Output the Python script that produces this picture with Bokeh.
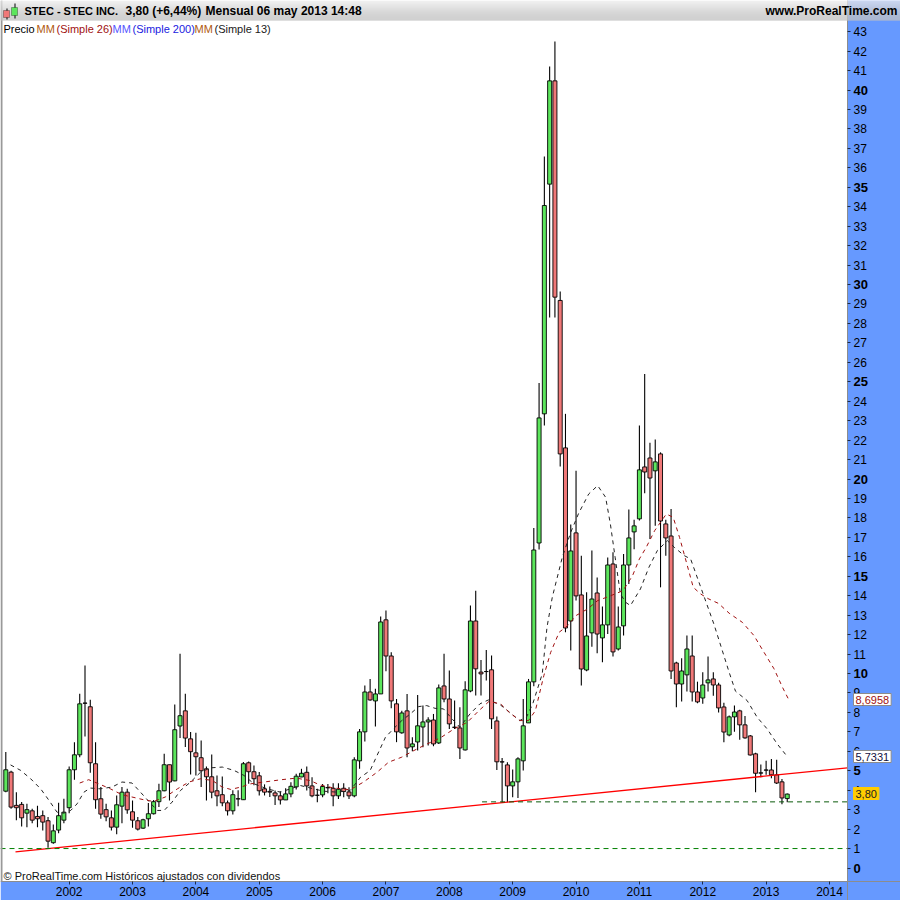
from bokeh.plotting import figure
from bokeh.embed import file_html
from bokeh.resources import INLINE
from bokeh.models import FixedTicker, Label, Range1d, BoxAnnotation

# --- chart values (month index 0 = Jan 2001) ---
opens = [3.95,4.93,3.22,3.27,2.82,2.94,2.65,2.69,2.43,1.30,1.95,2.46,3.10,5.05,5.82,8.48,8.29,5.36,3.56,3.00,2.58,2.10,3.18,3.90,2.89,2.43,2.05,2.53,2.79,3.41,3.97,5.31,4.48,7.30,8.08,6.64,5.92,5.67,5.10,4.69,3.97,3.77,3.35,2.94,3.56,3.51,5.41,4.95,4.74,4.07,3.94,
         3.86,3.71,3.50,3.81,4.17,4.68,4.92,4.22,3.74,3.76,4.14,4.10,3.71,4.10,3.91,3.71,5.51,7.00,9.05,8.59,8.95,12.76,10.90,8.44,6.95,8.08,6.23,6.48,7.25,7.51,7.61,6.43,9.36,8.69,7.24,7.20,6.07,9.10,12.70,10.07,10.10,10.19,7.56,5.46,5.30,4.22,4.43,5.51,7.46,9.57,16.71,23.35,35.16,40.47,29.18,21.60,12.70,17.23,14.04,10.18,12.09,14.14,11.83,12.50,15.63,11.26,12.45,15.58,17.28,17.95,20.62,21.08,20.42,21.29,17.69,17.07,10.54,9.46,9.93,10.90,9.05,8.74,9.52,9.72,9.41,8.28,6.84,7.77,8.08,7.36,6.79,5.87,4.89,5.04,5.04,4.79,4.43,3.57]
highs = [5.96,5.00,3.90,3.39,3.30,3.05,3.20,2.95,2.62,2.24,3.35,3.56,5.22,6.47,8.96,10.41,8.65,6.46,4.16,3.30,2.96,3.73,4.16,4.07,3.47,2.62,2.53,3.34,3.50,4.33,5.87,5.31,8.41,11.01,8.96,6.99,6.95,6.56,5.22,5.84,4.76,4.71,3.47,4.00,4.00,5.45,5.48,5.27,4.93,4.30,4.19,
         3.98,3.95,4.10,4.41,4.84,5.10,5.22,4.67,4.07,4.32,4.32,4.36,4.36,4.36,4.15,5.70,7.15,9.38,9.72,9.21,12.93,13.24,11.09,8.69,8.09,8.95,6.72,8.90,8.35,7.75,7.92,9.43,11.01,10.15,8.61,8.27,9.60,13.49,14.25,10.70,11.21,10.92,7.79,5.66,5.44,5.06,5.70,8.69,9.72,17.48,24.94,36.58,41.21,42.49,29.64,23.35,17.66,20.43,16.06,14.18,16.32,14.93,13.44,15.96,16.23,13.44,16.15,18.43,17.90,22.75,25.40,21.87,22.03,21.37,17.90,18.46,10.60,10.78,11.95,11.95,9.58,10.06,10.87,10.06,9.52,8.49,7.84,8.35,8.13,7.82,6.84,5.92,5.32,5.52,5.61,5.57,4.58,3.83]
lows = [3.90,3.05,2.45,2.14,2.10,2.30,2.10,1.93,1.04,1.25,1.79,2.30,2.82,4.54,5.70,6.76,4.90,3.05,2.53,2.40,1.93,1.73,2.30,2.79,2.07,1.93,2.00,2.14,2.75,3.13,3.95,3.47,4.46,6.68,6.22,4.81,4.76,4.16,3.47,3.59,3.17,3.17,2.70,2.75,3.17,3.50,4.33,4.25,3.73,3.73,3.65,
        3.24,3.26,3.50,3.64,4.03,4.67,3.98,3.64,3.38,3.64,3.84,3.18,3.55,3.64,3.55,3.64,5.10,6.50,8.60,7.27,8.95,10.12,8.21,6.47,6.90,5.70,6.00,6.04,6.21,6.30,6.26,6.38,8.52,7.15,7.15,5.61,6.04,9.04,8.87,8.87,9.64,7.15,5.04,3.38,3.38,3.64,3.60,5.01,7.46,9.34,16.37,22.75,28.30,28.30,20.64,12.12,11.18,13.75,9.38,10.12,11.38,11.04,10.58,12.03,10.87,11.18,11.95,14.60,16.39,17.86,19.27,16.92,17.60,14.43,16.06,9.72,8.26,8.56,9.07,8.56,8.47,8.44,9.07,8.86,8.00,6.46,6.77,7.01,6.60,6.64,5.78,3.89,4.67,4.79,4.61,4.32,3.28,3.38]
closes = [5.05,3.13,3.10,2.58,3.00,2.46,2.53,2.36,1.38,1.91,2.69,2.87,5.05,5.82,8.44,8.47,5.41,3.51,2.77,2.63,2.10,3.25,3.90,2.99,2.46,2.00,2.48,2.79,3.41,3.97,5.31,4.42,7.11,7.83,6.68,5.98,5.72,5.00,4.69,3.90,3.71,3.35,2.94,3.77,3.55,5.36,4.95,4.59,3.97,3.90,3.90,
          3.71,3.50,3.81,4.20,4.72,4.87,4.22,3.71,3.74,4.19,4.12,3.71,4.05,3.93,3.71,5.56,7.00,9.05,8.64,8.95,12.65,10.90,8.59,7.00,7.97,6.17,6.38,7.31,7.51,7.61,6.38,9.26,8.69,7.41,7.23,6.17,9.16,12.70,10.24,9.98,10.10,7.67,5.46,5.45,4.22,4.43,5.61,7.31,9.57,16.35,23.14,34.06,40.47,29.35,21.29,12.34,16.30,13.99,10.23,11.93,13.83,12.03,12.50,15.58,11.11,12.39,15.58,16.97,17.59,20.47,20.36,20.05,20.88,17.84,16.97,10.13,9.46,10.13,11.26,9.05,8.54,9.41,9.67,9.41,8.23,6.99,7.77,8.02,7.36,6.69,5.81,4.87,4.88,5.03,4.79,4.37,3.60,3.80]

ma13_i = [0.9,2.8,4.7,6.6,8.2,9.7,11,12.3,13.5,14.8,16,17.9,20.1,22,23.9,25.5,27.1,28.7,30,31.5,33.1,35,36.9,38.8,41,43.2,45.1,47,49.5,52,55.8,58.3,60.2,62.7,65.2,67.2,69,70.3,71.9,73.4,75,76.6,78.2,79.7,81.3,82.9,84.5,86,87.9,89.8,91.4,93.6,95.4,97.3,98.6,99.8,101.6,102.5,103.5,105.4,107,108.5,110.4,112.1,113.6,114.5,115.4,116.4,117.4,118.3,120.2,121.8,123.4,125.3,126.6,128.5,129.7,131.4,134.1,135.7,137,138.2,140.4,142.3,144.2,146.1,148]
ma13_v = [5.30,5.02,4.59,4.07,3.47,2.87,2.82,2.96,3.30,3.90,4.11,4.07,4.16,4.42,4.37,3.90,3.42,2.96,2.96,3.39,3.99,4.42,4.93,5.15,5.19,5.02,4.76,4.33,4.07,3.90,4.24,4.07,3.95,3.90,3.98,4.67,5.01,5.78,6.72,7.15,7.58,7.92,8.30,8.35,8.21,8.18,7.67,7.24,7.92,8.44,8.64,8.40,8.01,7.58,7.75,8.44,9.98,12.38,13.92,15.98,17.26,18.24,19.23,19.66,19.06,17.69,15.98,14.09,13.66,13.49,14.35,15.46,16.32,16.83,16.49,16.06,15.89,14.60,12.55,11.18,10.06,9.09,8.61,7.75,7.15,6.38,5.73]
ma26_i = [14,15.7,17.6,19.8,22,23.9,26.1,28,30.2,32.5,34.7,36.9,39.1,41,42.6,44.5,46.4,48.9,52.2,55,57.6,59.5,62,65.2,67.7,70.3,72.5,75,77.3,79.8,82.3,84.9,87.4,89.6,91.5,93.7,95.5,97.4,99,100.3,101.9,103.2,104.8,106.4,108,110.2,112.1,114.3,116.9,118.7,120,121.3,122.9,125.1,126.4,127.6,128.9,130.2,131.6,133,135,137,139.5,141.7,143.6,145.5,147.1,148.2]
ma26_v = [4.37,4.54,4.33,4.07,3.77,3.65,3.51,3.42,3.65,4.07,4.42,4.59,4.50,4.16,4.04,4.16,4.33,4.42,4.54,4.62,4.50,4.27,4.12,4.02,4.41,4.92,5.44,5.70,6.04,6.38,6.69,7.15,7.49,8.09,8.56,8.44,7.96,7.58,7.58,8.09,9.89,11.09,12.12,12.46,12.98,13.32,13.75,13.97,14.26,15.03,15.89,16.49,17.35,18.20,18.03,17.00,15.72,14.43,14.09,13.85,13.60,13.10,12.63,11.95,11.09,10.24,9.29,8.70]

trend_i = [1.84, 159.4]
trend_v = [0.83, 5.15]
support_levels = [1.0, 3.4]
support_starts = [None, 90.2]

years = ["2002","2003","2004","2005","2006","2007","2008","2009","2010","2011","2012","2013","2014"]
year_ticks = [12,24,36,48,60,72,84,96,108,120,132,144,156]
price_ticks = list(range(0, 44))
last_close = "3,80"
ma26_last = "8,6958"
ma13_last = "5,7331"

# --- colours ---
BLUE = "#6699FF"
GREEN = "#5CE65C"
RED = "#F07878"
FONT = "Liberation Sans"

# --- geometry: page pixels -> data; the frame fills the whole figure ---
FIG_W, FIG_H = 900, 900
MONTH_PX = 5.28
PRICE_PX = 19.45
ZERO_Y = 867.5        # page y of price 0
FIRST_X = 5.3         # page x of first candle
PLOT_R, PLOT_B = 847, 881

def vx(px):
    return (px - FIRST_X) / MONTH_PX

def vy(py):
    return (ZERO_Y - py) / PRICE_PX

def sy(py):
    return FIG_H - py

p = figure(width=FIG_W, height=FIG_H, output_backend="svg", toolbar_location=None,
           x_range=Range1d(vx(0), vx(FIG_W)), y_range=Range1d(vy(FIG_H), vy(0)),
           y_axis_location="right", min_border_left=0, min_border_top=0,
           min_border_right=0, min_border_bottom=0,
           background_fill_color="white", border_fill_color=BLUE, outline_line_color=None)
p.grid.visible = False

def box(x0, x1, y0, y1, fill, line=None, level="annotation", line_width=1):
    p.add_layout(BoxAnnotation(left=x0, right=x1, top=sy(y0), bottom=sy(y1),
                               left_units="screen", right_units="screen",
                               top_units="screen", bottom_units="screen",
                               fill_color=fill, fill_alpha=1, line_color=line, line_width=line_width,
                               editable=False, level=level))

# blue bands behind the axes
box(PLOT_R, FIG_W, 0, FIG_H, BLUE, level="underlay")
box(0, FIG_W, PLOT_B, FIG_H, BLUE, level="underlay")

xa = p.xaxis[0]
xa.fixed_location = vy(PLOT_B)
xa.ticker = FixedTicker(ticks=year_ticks)
xa.major_label_overrides = {t: y for t, y in zip(year_ticks, years)}
ya = p.yaxis[0]
ya.fixed_location = vx(PLOT_R)
ya.ticker = FixedTicker(ticks=price_ticks)
ya.major_label_overrides = {t: ("" if t % 5 == 0 else str(t)) for t in price_ticks}
for ax in (xa, ya):
    ax.axis_line_color = "#8c8c8c"
    ax.major_tick_line_color = "#1a2a4a"
    ax.major_tick_in = 0
    ax.major_tick_out = 3
    ax.minor_tick_line_color = None
    ax.major_label_text_font = FONT
    ax.major_label_text_font_size = "12px"
    ax.major_label_text_color = "black"
xa.major_label_standoff = 2
ya.major_label_standoff = 3

# left edge of the plot
box(0, 2, 0, PLOT_B, "#999999")

# header band
header = ["#ececec","#e9e9e9","#e6e6e6","#e3e3e3","#e0e0e0","#dddddd","#dadada","#d7d7d7","#d4d4d4","#d1d1d1",
          "#cecece","#cbcbcb","#c9c9c9","#c7c7c7","#c5c5c5","#c4c4c4","#c3c3c3","#c2c2c2","#c1c1c1","#c0c0c0"]
for k, c in enumerate(header):
    box(0, FIG_W, k, k + 1, c)

# candles
idx = list(range(len(closes)))
up = [i for i in idx if closes[i] >= opens[i]]
dn = [i for i in idx if closes[i] < opens[i]]
p.segment(idx, lows, idx, highs, line_color="black", line_width=1.1)
p.vbar(x=[i for i in up], top=[closes[i] for i in up], bottom=[opens[i] for i in up], width=0.76,
       fill_color=GREEN, line_color="black", line_width=0.9)
p.vbar(x=[i for i in dn], top=[opens[i] for i in dn], bottom=[closes[i] for i in dn], width=0.76,
       fill_color=RED, line_color="black", line_width=0.9)

# moving averages
p.line(ma13_i, ma13_v, line_color="#222222", line_width=1, line_dash="4 4")
p.line(ma26_i, ma26_v, line_color="#a01010", line_width=1, line_dash="4 4")

# drawn lines
p.line(trend_i, trend_v, line_color="#ff0000", line_width=1.3)
p.line([vx(0), vx(PLOT_R)], [support_levels[0]] * 2, line_color="#008000", line_width=1, line_dash="5 4")
p.line([support_starts[1], vx(PLOT_R)], [support_levels[1]] * 2, line_color="#0a5a0a", line_width=1, line_dash="5 4")

def text(px, py, s, color="black", bold=False, align="left", size="12px", **kw):
    lab = Label(x=px, y=sy(py), x_units="screen", y_units="screen", text=s, text_color=color,
                text_font=FONT, text_font_size=size,
                text_font_style="bold" if bold else "normal", text_align=align,
                text_baseline="middle", **kw)
    p.add_layout(lab)

# bold price labels on the multiples of five
for t in price_ticks:
    if t % 5 == 0:
        text(853, ZERO_Y - t * PRICE_PX, str(t), bold=True, size="13px")

# value boxes
for py, s, col, bg, bc in [(699, ma26_last, "#a01010", "#ffffff", "#8c8c8c"),
                           (756, ma13_last, "#101040", "#ffffff", "#8c8c8c"),
                           (793, last_close, "#202020", "#ffcc00", "#ffcc00")]:
    text(853, py, s, color=col, size="11px", background_fill_color=bg, border_line_color=bc, padding=2)

# header icon and texts
box(6, 7, 8, 19, "black")
box(14, 15, 3, 18, "black")
box(3, 9, 10, 17, RED, "black")
box(11, 17, 7, 15, GREEN, "black")
text(24, 10.5, "STEC - STEC INC.", bold=True, size="11px")
text(125, 10.5, "3,80 (+6,44%)", bold=True)
text(205, 10.5, "Mensual  06 may 2013 14:48", bold=True)
text(897, 10.5, "www.ProRealTime.com", bold=True, align="right")

# legend line
for px, s, c in [(3, "Precio", "black"), (36, "MM", "#b05a10"), (56, "(Simple 26)", "#a01010"),
                 (112, "MM", "#5555ff"), (132, "(Simple 200)", "#2020e0"),
                 (194, "MM", "#b05a10"), (214, "(Simple 13)", "#202020")]:
    text(px, 28, s, color=c, size="11px")

text(3, 875, "\u00a9 ProRealTime.com  Hist\u00f3ricos ajustados con dividendos", color="#101010", size="11px")

open("out.html", "w").write(file_html(p, INLINE))
